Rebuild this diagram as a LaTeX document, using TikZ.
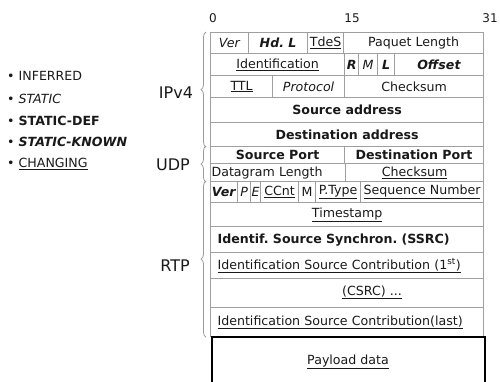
\documentclass[tikz,border=0pt]{standalone}
\usepackage{fontspec}
\setmainfont{DejaVu Sans}
\frenchspacing
\usetikzlibrary{decorations.pathreplacing}
\begin{document}
\begin{tikzpicture}[x=1pt,y=-1pt,
  every node/.style={font=\fontsize{12.6}{14}\selectfont\frenchspacing, inner sep=0pt, text=black!90},
  cell/.style={draw=gray!75, line width=1.2pt, anchor=north west},
  lcell/.style={cell, text width=#1, align=left},
  payload/.style={draw=black, line width=2pt, anchor=north west},
  brc/.style={draw=gray!80, line width=0.8pt, decorate, decoration={brace, amplitude=5pt, aspect=#1}},
  lbl/.style={font=\fontsize{16}{18}\selectfont},
  bitnum/.style={font=\fontsize{12}{14}\selectfont},
  legend/.style={anchor=west}]
\useasboundingbox (0,0) rectangle (500,381);
\clip (0,0) rectangle (500,381);
% bit numbers
\node[bitnum] (b0) at (213,18) {0};
\node[bitnum] (b15) at (352,18) {15};
\node[bitnum] (b31) at (490,18) {31};
% legend
\node[legend] (inf) at (7,76) {\textbullet\ INFERRED};
\node[legend] (sta) at (7,99) {\textbullet\ \textit{STATIC}};
\node[legend] (sdef) at (7,121) {\textbullet\ \textbf{STATIC-DEF}};
\node[legend] (skn) at (7,142) {\textbullet\ \textbf{\textit{STATIC-KNOWN}}};
\node[legend] (chg) at (7,164) {\textbullet\ \underline{CHANGING}};
% IPv4 rows
\node[cell, minimum width=38, minimum height=21] (ver) at (210,32) {\textit{Ver}};
\node[cell, minimum width=59, minimum height=21] (hdl) at (248,32) {\textbf{\textit{Hd. L}}};
\node[cell, minimum width=36, minimum height=21] (tos) at (307,32) {\underline{TdeS}};
\node[cell, minimum width=140, minimum height=21] (plen) at (343,32) {Paquet Length};
\node[cell, minimum width=134, minimum height=22] (ident) at (210,53) {\underline{Identification}};
\node[cell, minimum width=14, minimum height=22] (fr) at (344,53) {\textbf{\textit{R}}};
\node[cell, minimum width=19, minimum height=22] (fm) at (358,53) {\textit{M}};
\node[cell, minimum width=17, minimum height=22] (fl) at (377,53) {\textbf{\textit{L}}};
\node[cell, minimum width=89, minimum height=22] (off) at (394,53) {\textbf{\textit{Offset}}};
\node[cell, minimum width=62, minimum height=22] (ttl) at (210,75) {\underline{TTL}};
\node[cell, minimum width=72, minimum height=22] (proto) at (272,75) {\textit{Protocol}};
\node[cell, minimum width=139, minimum height=22] (ipck) at (344,75) {Checksum};
\node[cell, minimum width=273, minimum height=25] (srcad) at (210,97) {\textbf{Source address}};
\node[cell, minimum width=273, minimum height=24] (dstad) at (210,122) {\textbf{Destination address}};
% UDP rows
\node[cell, minimum width=134, minimum height=17] (sport) at (210,146) {\textbf{Source Port}};
\node[cell, minimum width=139, minimum height=17] (dport) at (344,146) {\textbf{Destination Port}};
\node[lcell=133pt, minimum height=18, inner xsep=1pt] (dlen) at (210,163) {Datagram Length};
\node[cell, minimum width=138, minimum height=18] (udpck) at (345,163) {\underline{Checksum}};
% RTP rows
\node[cell, minimum width=27, minimum height=21] (rver) at (210,181) {\textbf{\textit{Ver}}};
\node[cell, minimum width=13, minimum height=21] (rp) at (237,181) {\textit{P}};
\node[cell, minimum width=10, minimum height=21] (re) at (250,181) {\textit{E}};
\node[cell, minimum width=38, minimum height=21] (ccnt) at (260,181) {\underline{CCnt}};
\node[cell, minimum width=17, minimum height=21] (rm) at (298,181) {M};
\node[cell, minimum width=45, minimum height=21] (ptype) at (315,181) {\underline{P.Type}};
\node[cell, minimum width=123, minimum height=21] (seq) at (360,181) {\underline{Sequence Number}};
\node[cell, minimum width=273, minimum height=24] (ts) at (210,202) {\underline{Timestamp}};
\node[lcell=259pt, minimum height=26, inner xsep=7pt] (ssrc) at (210,226) {\textbf{Identif. Source Synchron. (SSRC)}};
\node[lcell=259pt, minimum height=26, inner xsep=7pt] (csrc1) at (210,252) {\underline{Identification Source Contribution (1\textsuperscript{st})}};
\node[cell, minimum width=273, minimum height=29] (csrcm) at (210,278) {};
\node (csrcmt) at (372,292.5) {\underline{(CSRC) ...}};
\node[lcell=259pt, minimum height=29, inner xsep=7pt] (csrcl) at (210,307) {\underline{Identification Source Contribution(last)}};
% payload
\node[payload, minimum width=273, minimum height=60] (pay) at (211,336) {};
\node (payt) at (348,362) {\underline{Payload data}};
% braces and labels
\draw[brc=0.5] ([xshift=-4pt]dstad.south west) -- ([xshift=-4pt]ver.north west);
\node[lbl] (ipv4) at (176,93) {IPv4};
\draw[brc=0.5] ([xshift=-4pt]dlen.south west) -- ([xshift=-4pt]sport.north west);
\node[lbl] (udp) at (173,165) {UDP};
\draw[brc=0.5] ([xshift=-4pt]csrcl.south west) -- ([xshift=-4pt]rver.north west);
\node[lbl] (rtp) at (175,266) {RTP};
\end{tikzpicture}
\end{document}
